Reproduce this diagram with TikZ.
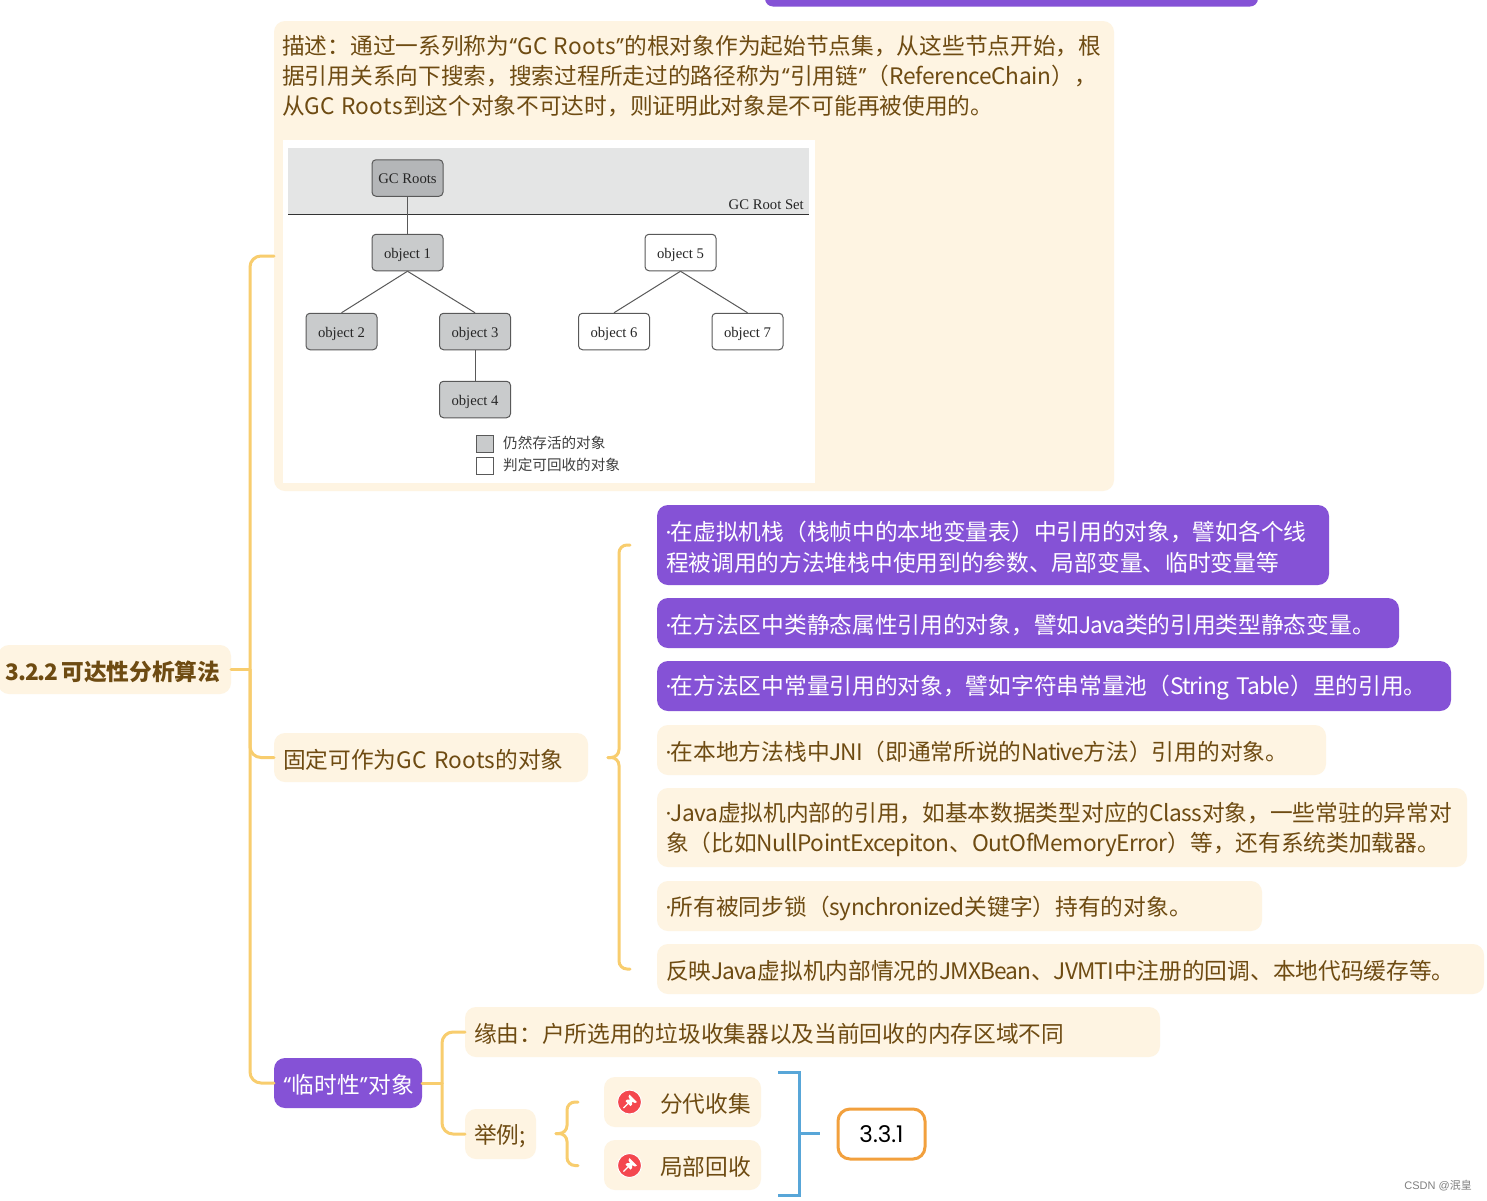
\documentclass[tikz,border=0pt]{standalone}
\usepackage{fontspec}
\setmainfont{Noto Sans CJK SC}
\newfontfamily\lat{Poppins}
\newfontfamily\ser{Liberation Serif}
\newfontfamily\wm{Liberation Sans}
\newfontfamily\lcf{Noto Sans CJK SC}[LetterSpace=-2.5]
\newfontfamily\ldf{Noto Sans CJK SC}[LetterSpace=-1.5]
\newfontfamily\lwf{Noto Sans CJK SC}[LetterSpace=2]
\newfontfamily\lvf{Noto Sans CJK SC}[LetterSpace=1]
\newfontfamily\lxaf{Noto Sans CJK SC}[LetterSpace=-5]
\newfontfamily\lxbf{Noto Sans CJK SC}[LetterSpace=-4]
\definecolor{cream}{HTML}{FEF4E2}
\definecolor{brn}{HTML}{6E4B12}
\definecolor{purp}{HTML}{8552D6}
\definecolor{yel}{HTML}{F8CD6E}
\definecolor{blu}{HTML}{58A6D8}
\definecolor{org}{HTML}{F2A03D}
\definecolor{bxd}{HTML}{C9CBCC}
\definecolor{bxr}{HTML}{B4B6B8}
\definecolor{band}{HTML}{E4E5E5}
\definecolor{pinr}{HTML}{F4474F}
\newcommand{\qq}[1]{{\lat #1}}
\newcommand{\lc}[1]{{\lcf #1}}
\newcommand{\ld}[1]{{\ldf #1}}
\newcommand{\lw}[1]{{\lwf #1}}
\newcommand{\lv}[1]{{\lvf #1}}
\newcommand{\lxa}[1]{{\lxaf #1}}
\newcommand{\lxb}[1]{{\lxbf #1}}
\tikzset{
 x=1pt,y=-1pt,
 base/.style={anchor=north west,inner xsep=9pt,inner ysep=0pt,outer sep=0pt,rounded corners=11pt,font=\fontsize{22.7}{30.5}\selectfont,align=left},
 cbox/.style={base,fill=cream,text=brn},
 pbox/.style={base,fill=purp,text=white},
 conn/.style={yel,line width=3pt,line cap=round,rounded corners=11pt},
 brc/.style={yel,line width=3pt,line cap=round,rounded corners=8pt},
 objg/.style={draw=black!65,fill=bxd,rounded corners=4pt,line width=1pt,minimum width=71pt,minimum height=36.5pt,inner sep=0pt,text height=14.5pt,text depth=3pt,font=\ser\fontsize{14.7}{14.7}\selectfont,text=black!85},
 objw/.style={objg,fill=white},
 ln/.style={draw=black!65,line width=1pt},
 lgd/.style={draw=black!65,line width=1pt,minimum size=17pt,inner sep=0pt},
 lgt/.style={anchor=west,inner sep=0pt,font=\fontsize{14.6}{14.6}\selectfont,text=black!75},
 pinc/.style={circle,fill=pinr,draw=white,line width=1pt,minimum size=24pt,inner sep=0pt},
}
\newcommand{\bx}[7]{%
 \pgfmathsetmacro\bw{#4-(#2)}\pgfmathsetmacro\bh{#5-#3}\pgfmathsetmacro\tw{\bw-18}%
 \node[#6,minimum width=\bw pt,minimum height=\bh pt,text width=\tw pt] (#1) at (#2,#3) {\raisebox{-2pt}[\height][\depth]{\parbox[c]{\tw pt}{#7}}};}
\newcommand{\pin}[3]{%
 \node[pinc] (#1) at (#2,#3) {};
 \begin{scope}[shift={(#1.center)}]
  \fill[white] (0,-7.5) -- (7.5,0) -- (5.5,1) -- (2.5,-0.5) -- (2.5,2.5) -- (1,4) -- (-4,-1) -- (-2.5,-2.5) -- (0.5,-2.5) -- (-1,-5.5) -- cycle;
  \draw[white,line width=1.3pt] (-1.5,1.5) -- (-6,6);
 \end{scope}}
\begin{document}
\begin{tikzpicture}
\useasboundingbox (0,0) rectangle (1487,1200);
\fill[white] (0,0) rectangle (1487,1200);
\fill[purp,rounded corners=8pt] (765,-20) rectangle (1258,6.5);
% nodes
\bx{root}{-2}{645}{231}{694}{cbox}{\mbox{\hspace{-1.5pt}\bfseries\lxaf 3.2.2\hspace{3pt}\bfseries\rmfamily 可达性分析算法}}
\bx{desc}{274}{21}{1114}{491}{cbox}{}
\bx{fix}{274}{733}{588}{782}{cbox}{\mbox{固定可作为\lv{GC Roots}的对象}}
\bx{tmp}{274}{1058}{422}{1108}{pbox}{\qq{“}临时性\qq{”}对象}
\node[anchor=north west,inner sep=0pt,text=brn,align=left,font=\fontsize{22.7}{30}\selectfont] (desctxt) at (282,35) {描述：通过一系列称为\qq{“}\lw{GC Roots}\qq{”}的根对象作为起始节点集，从这些节点开始，根\\据引用关系向下搜索，搜索过程所走过的路径称为\qq{“}引用链\qq{”}（\ld{ReferenceChain}），\\从\lw{GC Roots}到这个对象不可达时，则证明此对象是不可能再被使用的。};
\bx{a1}{657}{505}{1329}{585}{pbox}{\qq{·}在虚拟机栈（栈帧中的本地变量表）中引用的对象，譬如各个线\\程被调用的方法堆栈中使用到的参数、局部变量、临时变量等}
\bx{a2}{657}{598}{1399}{648}{pbox}{\qq{·}在方法区中类静态属性引用的对象，譬如\lxa{Java}类的引用类型静态变量。}
\bx{a3}{657}{661}{1451}{711}{pbox}{\mbox{\qq{·}在方法区中常量引用的对象，譬如字符串常量池（\lxb{String~Table}）里的引用。}}
\bx{a4}{657}{725}{1326}{775}{cbox}{\qq{·}在本地方法栈中\lxa{JNI}（即通常所说的\lxa{Native}方法）引用的对象。}
\bx{a5}{657}{788}{1467}{867}{cbox}{\qq{·}\lc{Java}虚拟机内部的引用，如基本数据类型对应的\lc{Class}对象，一些常驻的异常对\\象（比如\lc{NullPointExcepiton}、\lc{OutOfMemoryError}）等，还有系统类加载器。}
\bx{a6}{657}{881}{1262}{931}{cbox}{\qq{·}所有被同步锁（\lc{synchronized}关键字）持有的对象。}
\bx{a7}{657}{944}{1484}{994}{cbox}{反映\lxb{Java}虚拟机内部情况的\lxb{JMXBean}、\lxb{JVMTI}中注册的回调、本地代码缓存等。}
\bx{why}{465}{1007}{1160}{1057}{cbox}{缘由：户所选用的垃圾收集器以及当前回收的内存区域不同}
\bx{eg}{465}{1109}{536}{1159}{cbox}{举例;}
\bx{fd}{604}{1077}{761}{1127}{cbox}{\mbox{\hspace{47pt}分代收集}}
\bx{jb}{604}{1140}{761}{1190}{cbox}{\mbox{\hspace{47pt}局部回收}}
\pin{p1}{629.5}{1102}
\pin{p2}{629.5}{1165.5}
\node[anchor=north west,draw=org,line width=3pt,fill=white,rounded corners=12pt,minimum width=87pt,minimum height=50pt,inner sep=0pt,font=\lat\fontsize{23}{23}\selectfont,text=black] (s331) at (836.5,1107.5) {3.3.1};
% connectors
\coordinate (hub) at (250,669.5);
\draw[conn] (root.east) -- (hub);
\draw[conn] (hub) |- (desc.west);
\draw[conn] (hub) |- (fix.west);
\draw[conn] (hub) |- (tmp.west);
\coordinate (h2) at (442,1083);
\draw[conn] (tmp.east) -- (h2);
\draw[conn] (h2) |- (why.west);
\draw[conn] (h2) |- (eg.west);
% brace of the fixed objects
\coordinate (bt) at (608,757.5);
\coordinate (bv) at (619,757.5);
\coordinate (b1) at (630,545);
\coordinate (b2) at (630,969);
\draw[brc] (bt) -- (bv) |- (b1);
\draw[brc] (bt) -- (bv) |- (b2);
% brace of the examples
\coordinate (ct) at (556,1133.5);
\coordinate (cv) at (567,1133.5);
\coordinate (c1) at (578,1102);
\coordinate (c2) at (578,1165.5);
\draw[brc] (ct) -- (cv) |- (c1);
\draw[brc] (ct) -- (cv) |- (c2);
% blue bracket
\coordinate (d1) at (778,1072);
\coordinate (d2) at (778,1195.5);
\coordinate (dv) at (799,1133.5);
\coordinate (de) at (820,1133.5);
\draw[blu,line width=3pt] (d1) -| (dv) |- (d2);
\draw[blu,line width=3pt] (dv) -- (de);
% embedded figure
\fill[white] (283,140) rectangle (815,483);
\fill[band] (288,148) rectangle (809,214);
\coordinate (ll) at (288,214.5);
\coordinate (lr) at (809,214.5);
\draw[black!80,line width=1pt] (ll) -- (lr);
\node[anchor=base east,inner sep=0pt,font=\ser\fontsize{14.7}{14.7}\selectfont,text=black!85] (grs) at (804,209) {GC Root Set};
\node[objg,fill=bxr] (gc) at (407.5,178) {GC Roots};
\node[objg] (o1) at (407.5,252.5) {object 1};
\node[objg] (o2) at (341.5,331.5) {object 2};
\node[objg] (o3) at (475,331.5) {object 3};
\node[objg] (o4) at (475,399.5) {object 4};
\node[objw] (o5) at (680.5,252.5) {object 5};
\node[objw] (o6) at (614,331.5) {object 6};
\node[objw] (o7) at (747.5,331.5) {object 7};
\draw[ln] (gc) -- (o1);
\draw[ln] (o1.south) -- (o2.north);
\draw[ln] (o1.south) -- (o3.north);
\draw[ln] (o3) -- (o4);
\draw[ln] (o5.south) -- (o6.north);
\draw[ln] (o5.south) -- (o7.north);
\node[lgd,fill=bxd] (lg1) at (484.5,443.5) {};
\node[lgd,fill=white] (lg2) at (484.5,466) {};
\node[lgt] (lt1) at (503,443) {仍然存活的对象};
\node[lgt] (lt2) at (503,465) {判定可回收的对象};
\node[anchor=base east,inner sep=0pt,font=\wm\fontsize{11}{11}\selectfont,text=black!50] (wmk) at (1472,1189) {CSDN @{\rmfamily 泯皇}};
\end{tikzpicture}
\end{document}
